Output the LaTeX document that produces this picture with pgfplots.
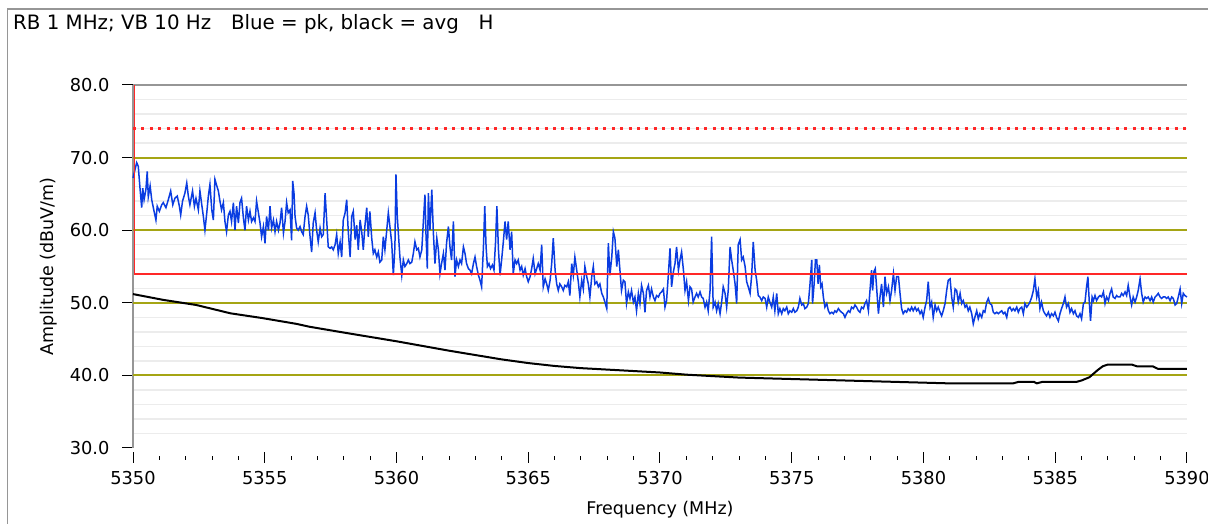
\documentclass[border=0pt]{standalone}
\usepackage{fontspec}
\setmainfont{DejaVu Sans}
\usepackage{pgfplots}
\pgfplotsset{compat=1.18}
\definecolor{tblue}{RGB}{10,60,225}
\definecolor{olivegrid}{RGB}{165,165,20}
\definecolor{mgrid}{RGB}{236,236,236}
\definecolor{limred}{RGB}{255,40,40}
\definecolor{axgray}{RGB}{150,150,150}
\begin{document}
\begin{tikzpicture}[x=1pt,y=1pt]
\useasboundingbox (0,0) rectangle (1208,524);
\fill[white] (0,0) rectangle (1208,524);
\draw[axgray, line width=1.5pt] (7.5,0) -- (7.5,515) -- (1208,515);
\node[anchor=base west, inner sep=0pt, font=\fontsize{19.8}{22}\selectfont] at (13,494.7) {RB 1 MHz; VB 10 Hz\quad Blue = pk, black = avg\quad H};
\begin{axis}[
  at={(133pt,76pt)}, anchor=south west,
  scale only axis, width=1054pt, height=363pt,
  xmin=5350, xmax=5390, ymin=30, ymax=80,
  axis x line*=bottom, axis y line*=left,
  x axis line style={draw=none},
  y axis line style={draw=axgray, line width=1.5pt},
  xtick={5350,5355,...,5390}, minor x tick num=4,
  ytick={30,40,...,80}, minor ytick={32,34,...,78},
  yminorgrids, minor grid style={mgrid, line width=1.5pt},
  minor y tick style={draw=none},
  tick align=outside, major tick length=11pt, minor tick length=4pt,
  tick style={black, line width=1pt},
  xtick style={yshift=-4pt}, minor x tick style={yshift=-4pt},
  ticklabel style={font=\fontsize{17.8}{21}\selectfont},
  /pgf/number format/assume math mode=true,
  yticklabel={\pgfmathprintnumber[fixed,fixed zerofill,precision=1]{\tick}},
  yticklabel style={xshift=-9pt},
  xticklabel style={/pgf/number format/1000 sep={}, yshift=-9pt},
  label style={font=\fontsize{17.5}{20}\selectfont},
  xlabel={Frequency (MHz)}, ylabel={Amplitude (dBuV/m)},
  xlabel style={yshift=-9pt},
  ylabel style={yshift=6pt},
  clip=false,
]
\draw[axgray, line width=1.5pt] (rel axis cs:0,1) -- (rel axis cs:1,1);
\addplot[olivegrid, line width=2pt] coordinates {(5350,40) (5390,40)};
\addplot[olivegrid, line width=2pt] coordinates {(5350,50) (5390,50)};
\addplot[olivegrid, line width=2pt] coordinates {(5350,60) (5390,60)};
\addplot[olivegrid, line width=2pt] coordinates {(5350,70) (5390,70)};
% average (black)
\addplot[black, line width=2pt] table {
x y
5350.00 51.2
5351.15 50.4
5352.40 49.7
5353.70 48.55
5354.90 47.9
5356.20 47.1
5356.70 46.7
5358.00 45.9
5360.00 44.7
5362.00 43.4
5364.00 42.2
5365.00 41.7
5366.00 41.3
5367.00 41.0
5368.00 40.8
5369.00 40.6
5370.00 40.4
5371.00 40.1
5372.00 39.9
5373.00 39.7
5374.00 39.6
5375.00 39.5
5376.00 39.4
5377.00 39.3
5378.00 39.2
5379.00 39.1
5380.00 39.0
5381.00 38.9
5382.00 38.9
5383.40 38.9
5383.60 39.1
5384.20 39.1
5384.30 38.9
5384.50 39.1
5385.80 39.1
5386.00 39.3
5386.30 39.75
5386.60 40.7
5386.80 41.25
5387.00 41.5
5387.90 41.5
5388.10 41.25
5388.70 41.25
5388.90 40.9
5390.00 40.9
};
% peak (blue)
\addplot[tblue, line width=1.5pt] table {
x y
5350.00 67.2
5350.14 69.3
5350.20 68.8
5350.27 65.6
5350.33 63.1
5350.37 65.8
5350.42 64.2
5350.49 65.6
5350.54 68.1
5350.58 64.6
5350.65 66.1
5350.71 64.2
5350.80 62.6
5350.87 61.4
5350.92 63.3
5351.00 62.6
5351.09 63.5
5351.15 63.8
5351.25 63.1
5351.34 64.2
5351.43 65.4
5351.51 63.5
5351.59 64.4
5351.68 64.7
5351.76 63.3
5351.81 62.1
5351.88 64.0
5351.97 65.1
5352.04 66.5
5352.10 64.7
5352.16 63.5
5352.26 65.4
5352.33 63.3
5352.39 64.4
5352.48 62.8
5352.54 65.4
5352.61 63.5
5352.67 61.9
5352.73 60.0
5352.80 62.4
5352.86 64.7
5352.92 66.3
5352.99 62.8
5353.05 61.4
5353.11 67.0
5353.18 66.1
5353.24 65.4
5353.30 64.0
5353.36 62.8
5353.43 63.8
5353.49 61.2
5353.55 59.8
5353.62 62.1
5353.68 62.6
5353.74 61.2
5353.81 63.8
5353.87 60.0
5353.93 63.3
5354.00 61.0
5354.06 63.8
5354.12 64.4
5354.19 61.7
5354.25 60.0
5354.31 63.3
5354.38 61.4
5354.44 62.6
5354.50 61.2
5354.57 61.7
5354.63 61.2
5354.69 64.0
5354.76 62.4
5354.82 61.0
5354.88 59.1
5354.95 60.5
5355.01 58.2
5355.07 61.9
5355.14 60.0
5355.20 63.3
5355.26 60.3
5355.33 61.4
5355.39 59.8
5355.45 61.2
5355.52 60.0
5355.58 61.0
5355.64 63.1
5355.71 59.6
5355.77 61.2
5355.83 63.8
5355.89 62.4
5355.96 62.8
5356.02 58.6
5356.06 66.8
5356.11 65.1
5356.15 61.9
5356.21 60.3
5356.27 60.0
5356.34 60.5
5356.40 59.8
5356.46 59.4
5356.53 61.9
5356.59 63.3
5356.65 62.1
5356.72 59.1
5356.78 57.0
5356.84 61.0
5356.91 62.4
5356.97 60.0
5357.03 58.4
5357.10 60.3
5357.16 59.1
5357.22 59.4
5357.29 65.1
5357.35 61.4
5357.41 57.7
5357.48 57.5
5357.54 57.7
5357.60 57.3
5357.67 58.0
5357.73 59.4
5357.79 56.8
5357.86 58.4
5357.92 56.3
5357.98 61.4
5358.05 62.4
5358.11 64.2
5358.17 59.8
5358.24 56.3
5358.30 61.9
5358.36 62.6
5358.43 58.7
5358.49 60.7
5358.55 57.3
5358.62 61.4
5358.68 59.8
5358.74 57.3
5358.80 60.5
5358.87 63.1
5358.93 59.1
5358.99 62.6
5359.06 58.9
5359.12 56.8
5359.18 57.3
5359.25 56.3
5359.31 57.0
5359.37 55.6
5359.44 55.9
5359.50 59.1
5359.56 57.3
5359.63 60.0
5359.69 62.4
5359.75 60.5
5359.82 58.2
5359.88 53.8
5359.94 57.7
5359.98 67.7
5360.03 61.9
5360.08 59.1
5360.13 56.3
5360.20 53.8
5360.26 55.9
5360.32 55.0
5360.39 55.4
5360.45 55.9
5360.51 55.4
5360.58 55.6
5360.64 56.8
5360.70 58.4
5360.77 57.3
5360.83 57.5
5360.89 56.3
5360.96 57.3
5361.02 61.2
5361.08 64.9
5361.12 59.4
5361.17 54.7
5361.21 65.1
5361.27 60.0
5361.34 65.6
5361.40 59.6
5361.46 55.4
5361.53 58.9
5361.59 57.3
5361.65 54.0
5361.71 55.4
5361.78 56.8
5361.84 54.5
5361.90 58.2
5361.97 60.5
5362.03 57.7
5362.09 55.9
5362.16 61.2
5362.22 53.6
5362.28 55.9
5362.35 55.0
5362.41 55.9
5362.47 55.4
5362.54 57.7
5362.60 56.8
5362.66 55.4
5362.73 54.7
5362.79 54.5
5362.85 54.0
5362.92 55.4
5362.98 56.3
5363.04 55.0
5363.11 53.8
5363.17 53.1
5363.23 52.2
5363.30 57.7
5363.35 63.3
5363.40 57.7
5363.45 55.0
5363.51 55.4
5363.57 54.7
5363.64 55.2
5363.70 54.5
5363.76 58.4
5363.81 63.3
5363.87 57.3
5363.93 53.8
5363.99 55.9
5364.05 58.2
5364.12 61.2
5364.18 58.7
5364.24 61.2
5364.31 57.3
5364.37 59.8
5364.43 54.0
5364.50 55.9
5364.56 55.4
5364.62 55.9
5364.69 54.5
5364.75 55.0
5364.81 53.8
5364.88 54.7
5364.94 53.6
5365.00 52.9
5365.07 53.6
5365.13 54.7
5365.19 56.1
5365.26 54.0
5365.32 54.7
5365.38 55.4
5365.45 54.5
5365.51 58.0
5365.57 52.2
5365.64 53.3
5365.70 52.6
5365.76 51.7
5365.83 53.1
5365.89 55.4
5365.95 58.9
5366.02 54.5
5366.08 52.6
5366.14 51.7
5366.20 52.6
5366.27 52.2
5366.33 51.7
5366.39 52.4
5366.46 52.2
5366.52 52.9
5366.58 51.0
5366.65 55.4
5366.71 53.8
5366.77 56.3
5366.84 54.5
5366.90 52.9
5366.96 50.8
5367.03 53.1
5367.09 51.9
5367.15 55.0
5367.22 53.6
5367.28 52.6
5367.34 50.8
5367.41 53.6
5367.47 55.0
5367.53 52.6
5367.60 52.9
5367.66 52.2
5367.72 52.6
5367.79 51.3
5367.85 50.8
5367.91 50.1
5367.98 49.2
5368.04 58.2
5368.10 53.8
5368.17 56.3
5368.23 59.8
5368.29 58.9
5368.36 55.0
5368.42 57.3
5368.48 54.5
5368.54 51.7
5368.61 53.1
5368.67 52.9
5368.73 49.9
5368.80 51.5
5368.86 50.6
5368.92 51.7
5368.99 50.1
5369.05 50.8
5369.11 48.9
5369.18 51.3
5369.24 49.9
5369.30 52.4
5369.37 51.3
5369.43 48.7
5369.49 51.7
5369.56 52.4
5369.62 50.8
5369.68 51.9
5369.75 50.8
5369.81 50.3
5369.87 51.0
5369.94 50.8
5370.00 51.3
5370.06 51.5
5370.13 51.9
5370.19 49.4
5370.25 50.3
5370.32 54.0
5370.38 57.5
5370.44 52.2
5370.51 54.3
5370.57 55.4
5370.63 57.7
5370.70 54.5
5370.76 55.9
5370.82 57.0
5370.89 54.5
5370.95 51.7
5371.01 52.9
5371.08 50.3
5371.14 52.2
5371.20 51.9
5371.26 50.1
5371.33 50.8
5371.39 51.3
5371.45 50.8
5371.52 51.5
5371.58 50.8
5371.64 50.6
5371.71 49.4
5371.77 50.1
5371.83 48.9
5371.90 51.7
5371.96 59.1
5372.02 49.4
5372.09 50.1
5372.15 48.9
5372.21 49.9
5372.28 48.5
5372.34 50.1
5372.40 52.2
5372.47 51.3
5372.53 49.4
5372.59 51.7
5372.66 57.7
5372.72 55.9
5372.78 54.5
5372.85 52.6
5372.91 49.9
5372.97 58.0
5373.04 58.7
5373.10 55.9
5373.16 56.3
5373.23 55.0
5373.29 52.9
5373.35 52.2
5373.42 51.3
5373.48 53.8
5373.54 58.4
5373.61 54.5
5373.67 53.1
5373.73 51.0
5373.79 50.8
5373.86 50.3
5373.92 50.8
5373.99 50.6
5374.05 49.4
5374.11 50.8
5374.17 50.1
5374.24 49.4
5374.30 50.8
5374.36 48.9
5374.43 51.3
5374.49 48.5
5374.55 49.2
5374.62 48.5
5374.68 49.2
5374.74 48.9
5374.81 49.4
5374.87 48.5
5374.93 48.9
5375.00 48.7
5375.06 49.2
5375.12 48.7
5375.19 48.9
5375.25 49.4
5375.31 50.6
5375.38 49.7
5375.44 49.9
5375.50 49.2
5375.57 49.4
5375.63 49.9
5375.69 52.4
5375.76 55.9
5375.79 49.9
5375.85 52.6
5375.90 55.9
5375.95 55.9
5376.00 52.6
5376.05 55.2
5376.10 52.2
5376.15 52.6
5376.20 50.8
5376.26 49.4
5376.33 49.9
5376.39 48.9
5376.45 48.5
5376.52 48.7
5376.58 48.5
5376.64 48.9
5376.70 48.7
5376.77 49.2
5376.83 48.9
5376.89 48.7
5376.96 48.5
5377.02 48.0
5377.08 48.5
5377.15 48.9
5377.21 48.7
5377.27 49.4
5377.34 49.2
5377.40 49.7
5377.46 49.4
5377.53 48.9
5377.59 48.7
5377.65 49.4
5377.72 49.2
5377.78 49.9
5377.84 50.3
5377.91 48.9
5377.97 51.7
5378.03 54.5
5378.07 51.7
5378.12 54.3
5378.17 54.7
5378.22 52.2
5378.29 48.5
5378.35 50.8
5378.41 52.6
5378.48 49.4
5378.54 53.6
5378.60 51.3
5378.67 52.2
5378.73 50.3
5378.79 51.7
5378.86 54.0
5378.92 51.7
5378.98 53.6
5379.05 53.6
5379.11 51.3
5379.17 49.2
5379.23 48.5
5379.30 48.9
5379.36 48.7
5379.42 49.2
5379.49 48.9
5379.55 49.4
5379.61 48.9
5379.68 49.4
5379.74 48.9
5379.80 49.2
5379.87 48.5
5379.93 48.9
5379.99 48.0
5380.06 49.4
5380.12 50.3
5380.18 52.9
5380.25 49.4
5380.31 50.1
5380.37 48.0
5380.44 49.7
5380.50 48.9
5380.56 49.4
5380.63 48.7
5380.69 48.2
5380.75 48.9
5380.82 49.9
5380.88 51.7
5380.94 53.1
5381.01 53.3
5381.07 50.8
5381.13 49.4
5381.20 51.9
5381.26 51.7
5381.32 50.1
5381.39 51.3
5381.45 49.9
5381.51 50.3
5381.58 49.4
5381.64 49.7
5381.70 48.9
5381.76 49.4
5381.83 48.5
5381.89 47.1
5381.95 48.0
5382.02 48.9
5382.08 47.8
5382.14 48.5
5382.21 48.0
5382.27 48.9
5382.33 48.7
5382.40 50.1
5382.46 50.6
5382.52 49.9
5382.59 49.7
5382.65 48.7
5382.71 48.5
5382.78 48.7
5382.84 48.5
5382.90 48.7
5382.97 48.9
5383.03 48.5
5383.09 48.7
5383.16 48.0
5383.22 49.2
5383.28 49.4
5383.35 48.9
5383.41 49.2
5383.47 48.9
5383.54 49.4
5383.60 48.7
5383.66 49.2
5383.73 49.4
5383.79 48.5
5383.85 49.9
5383.92 49.4
5383.98 49.7
5384.04 50.1
5384.11 50.8
5384.17 51.7
5384.23 53.3
5384.30 50.8
5384.36 51.7
5384.42 49.2
5384.48 50.1
5384.55 48.9
5384.61 48.5
5384.67 48.2
5384.74 48.7
5384.80 48.0
5384.86 48.5
5384.93 48.2
5384.99 48.7
5385.05 48.0
5385.12 47.5
5385.18 48.5
5385.24 49.2
5385.31 49.9
5385.37 50.8
5385.43 49.4
5385.50 49.9
5385.56 48.7
5385.62 49.2
5385.69 48.5
5385.75 48.9
5385.81 48.2
5385.88 48.0
5385.94 48.5
5386.00 47.8
5386.07 49.9
5386.13 50.1
5386.19 52.2
5386.24 53.6
5386.29 50.3
5386.34 47.5
5386.40 50.8
5386.45 50.3
5386.51 51.0
5386.57 50.3
5386.64 50.8
5386.70 51.0
5386.76 50.8
5386.83 51.5
5386.89 49.9
5386.95 50.8
5387.02 50.3
5387.08 51.3
5387.14 51.9
5387.20 50.8
5387.27 50.6
5387.33 51.0
5387.39 50.8
5387.46 50.8
5387.52 51.3
5387.58 51.0
5387.65 51.5
5387.71 51.0
5387.77 52.4
5387.84 50.8
5387.90 49.7
5387.96 50.8
5388.03 50.1
5388.09 50.8
5388.15 51.7
5388.22 53.3
5388.28 51.3
5388.34 50.1
5388.41 50.8
5388.47 50.6
5388.53 50.8
5388.60 50.3
5388.66 50.8
5388.72 50.1
5388.79 50.8
5388.85 51.0
5388.91 51.3
5388.98 50.8
5389.04 50.6
5389.10 50.8
5389.17 50.8
5389.23 50.6
5389.29 50.8
5389.36 50.3
5389.42 50.8
5389.48 50.6
5389.55 49.7
5389.61 49.9
5389.67 50.8
5389.74 51.9
5389.80 49.9
5389.86 51.3
5389.92 51.0
5390.00 50.8
};
% limit lines
\addplot[limred, line width=1.5pt] coordinates {(5350.05,80) (5350.05,54) (5390,54)};
\addplot[limred, line width=3pt, dash pattern=on 3pt off 5.4pt] coordinates {(5350,74) (5390,74)};
\end{axis}
\end{tikzpicture}
\end{document}
